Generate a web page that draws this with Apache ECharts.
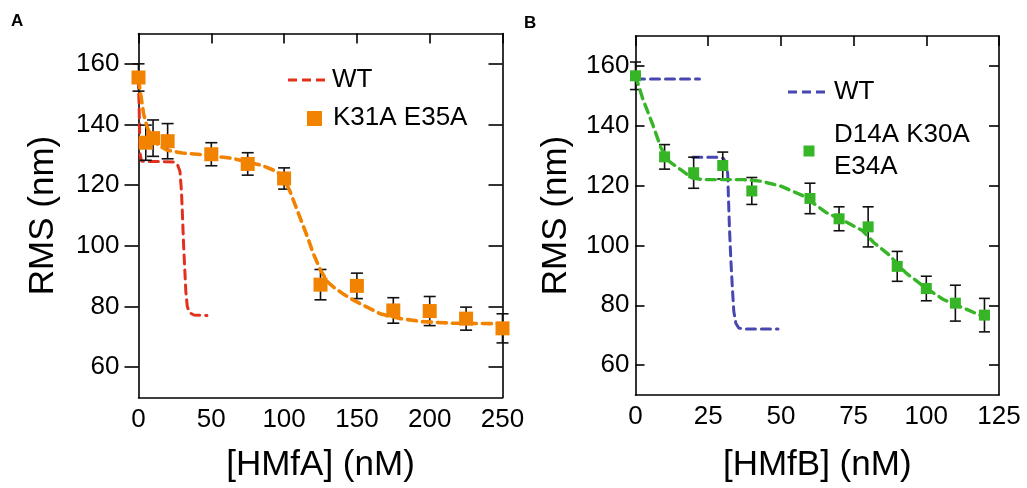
<!DOCTYPE html>
<html>
<head>
<meta charset="utf-8">
<script src="https://cdn.jsdelivr.net/npm/echarts@6/dist/echarts.min.js"></script>
<style>
html,body{margin:0;padding:0;background:#fff;}
#chart{width:1027px;height:488px;}
</style>
</head>
<body>
<div id="chart"></div>
<script>
// ---------- Panel A data ----------
const mutA_x   = [0, 5, 10, 20, 50, 75, 100, 125, 150, 175, 200, 225, 250];
const mutA_y   = [155.5, 134, 135.5, 134.5, 130.2, 127, 122.2, 87.2, 86.8, 78.7, 78.5, 76, 72.8];
const mutA_err = [4.5, 5.8, 6, 5.8, 3.8, 3.7, 3.5, 5, 4.2, 4.2, 4.8, 3.8, 4.8];
const fitA_x = [0, 1.5, 3.5, 6, 10, 14, 20, 30, 45, 65, 85, 95, 100, 104, 108, 112, 116, 120, 125, 130, 135, 141, 148, 157, 166, 180, 195, 215, 250];
const fitA_y = [155, 150, 143.5, 139, 135, 133, 131.5, 130.6, 130, 128.8, 126.5, 124.5, 122, 118, 113, 108, 103, 97.5, 92, 88, 86, 84, 82, 79.8, 77.6, 76, 75, 74.5, 74.3];
const wtA_x = [0, 0.4, 0.8, 1.2, 2, 5, 15, 25, 27, 28.5, 29.5, 30.2, 31, 31.8, 32.5, 33.5, 35, 38, 47];
const wtA_y = [155, 146, 137, 130, 128, 127.8, 127.8, 127.6, 126.5, 124.5, 118, 110, 100, 92, 85, 80, 78, 77.2, 77];

// ---------- Panel B data ----------
const mutB_x   = [0, 10, 20, 30, 40, 60, 70, 80, 90, 100, 110, 120];
const mutB_y   = [156.7, 129.6, 124.3, 126.7, 118.2, 115.7, 108.9, 106.2, 93, 85.6, 80.7, 76.7];
const mutB_err = [4.6, 4.1, 5.2, 4.5, 4.5, 5.1, 4, 6.7, 5, 4.1, 6, 5.6];
const fitB_x = [0, 2.5, 6, 8.8, 11.7, 16.3, 19.2, 23, 30, 37, 43, 50, 57.6, 65.6, 72.5, 78, 82, 87, 93, 99, 105.7, 113.7, 120];
const fitB_y = [156.7, 149, 140.2, 132.5, 128, 124.8, 122.6, 122, 122, 122, 121.5, 119.8, 116.6, 111, 107.8, 105, 100.9, 97, 90.8, 86.4, 82, 78.7, 76];
const wtB_x = [0, 22, 21, 19.7, 28.9, 30.3, 31.2, 31.7, 32, 32.3, 32.8, 33.3, 33.8, 34.5, 35.5, 37, 49];
const wtB_y = [155.6, 155.6, null, 129.5, 129.5, 129, 127, 124, 115, 106, 95, 86, 78, 74, 72.4, 72.1, 72.1];

// ---------- ticks / labels ----------
const yTicks = [60, 80, 100, 120, 140, 160];
const labelsText = {
  panelA: 'A', panelB: 'B',
  xA: '[HMfA] (nM)', xB: '[HMfB] (nM)', y: 'RMS (nm)',
  wt: 'WT', mutA: 'K31A E35A', mutB1: 'D14A K30A', mutB2: 'E34A'
};

const colors = { orange: '#F28300', red: '#E2301F', green: '#36B527', blue: '#4747B2' };
const FONT = '"Liberation Sans", Arial, Helvetica, sans-serif';

function pairs(xs, ys) { return xs.map((x, i) => [x, ys[i] === null ? '-' : ys[i]]); }
function errs(xs, ys, es) { return xs.map((x, i) => [x, ys[i] - es[i], ys[i] + es[i]]); }

function errRender(capHalf) {
  return function (params, api) {
    const x = api.value(0), lo = api.value(1), hi = api.value(2);
    const a = api.coord([x, lo]), b = api.coord([x, hi]);
    const st = { stroke: '#111', lineWidth: 1.6, fill: null };
    return {
      type: 'group', children: [
        { type: 'line', shape: { x1: a[0], y1: a[1], x2: b[0], y2: b[1] }, style: st },
        { type: 'line', shape: { x1: a[0] - capHalf, y1: a[1], x2: a[0] + capHalf, y2: a[1] }, style: st },
        { type: 'line', shape: { x1: b[0] - capHalf, y1: b[1], x2: b[0] + capHalf, y2: b[1] }, style: st }
      ]
    };
  };
}

const labelStyle = { fontFamily: FONT, fontSize: 26, color: '#000' };
const lineSt = { color: '#000', width: 1.6 };

function xAxes(grid, max, interval, name, nameGap) {
  return [
    { gridIndex: grid, type: 'value', min: 0, max: max, interval: interval, position: 'bottom',
      axisLine: { show: true, onZero: false, lineStyle: lineSt }, axisTick: { show: false },
      splitLine: { show: false },
      axisLabel: Object.assign({ margin: 9, showMinLabel: true, showMaxLabel: true }, labelStyle),
      name: name, nameLocation: 'middle', nameGap: nameGap,
      nameTextStyle: { fontFamily: FONT, fontSize: 35, color: '#000' } },
    { gridIndex: grid, type: 'value', min: 0, max: max, interval: interval, position: 'top',
      axisLine: { show: true, onZero: false, lineStyle: lineSt },
      axisTick: { show: true, inside: true, length: 10, lineStyle: lineSt },
      axisLabel: { show: false }, splitLine: { show: false } }
  ];
}
function yAxes(grid, leftInside, leftLen, rightLen, margin, nameGap) {
  return [
    { gridIndex: grid, type: 'value', min: 50, max: 170, position: 'left',
      axisLine: { show: true, onZero: false, lineStyle: lineSt },
      axisTick: { show: true, inside: leftInside, length: leftLen, customValues: yTicks, lineStyle: lineSt },
      axisLabel: Object.assign({ margin: margin, customValues: yTicks }, labelStyle),
      splitLine: { show: false },
      name: labelsText.y, nameLocation: 'middle', nameGap: nameGap,
      nameTextStyle: { fontFamily: FONT, fontSize: 35, color: '#000' } },
    { gridIndex: grid, type: 'value', min: 50, max: 170, position: 'right',
      axisLine: { show: true, onZero: false, lineStyle: lineSt },
      axisTick: { show: true, inside: true, length: rightLen, customValues: yTicks, lineStyle: lineSt },
      axisLabel: { show: false }, splitLine: { show: false } }
  ];
}

const dashLine = (color, w) => ({ color: color, width: w, type: [9, 6], cap: 'round' });

const option = {
  animation: false,
  backgroundColor: '#fff',
  grid: [
    { left: 138.5, top: 33.5, width: 364, height: 364 },
    { left: 635.5, top: 36, width: 363.5, height: 363 }
  ],
  xAxis: [].concat(xAxes(0, 250, 50, labelsText.xA, 50), xAxes(1, 125, 25, labelsText.xB, 53)),
  yAxis: [].concat(yAxes(0, false, 14, 14, 19, 78), yAxes(1, true, 9, 10, 6, 62)),
  series: [
    // Panel A
    { type: 'line', xAxisIndex: 0, yAxisIndex: 0, data: pairs(wtA_x, wtA_y), symbol: 'none',
      smooth: false, lineStyle: dashLine(colors.red, 3), z: 2 },
    { type: 'custom', xAxisIndex: 0, yAxisIndex: 0, data: errs(mutA_x, mutA_y, mutA_err),
      renderItem: errRender(6), encode: { x: 0, y: [1, 2] }, clip: false, z: 3 },
    { type: 'scatter', xAxisIndex: 0, yAxisIndex: 0, data: pairs(mutA_x, mutA_y), symbol: 'rect',
      symbolSize: 14, itemStyle: { color: colors.orange, opacity: 1 }, clip: false, z: 4 },
    { type: 'line', xAxisIndex: 0, yAxisIndex: 0, data: pairs(fitA_x, fitA_y), symbol: 'none',
      lineStyle: dashLine(colors.orange, 3.6), z: 5 },
    // Panel B
    { type: 'line', xAxisIndex: 2, yAxisIndex: 2, data: pairs(wtB_x, wtB_y), symbol: 'none',
      connectNulls: false, lineStyle: dashLine(colors.blue, 3), z: 2 },
    { type: 'custom', xAxisIndex: 2, yAxisIndex: 2, data: errs(mutB_x, mutB_y, mutB_err),
      renderItem: errRender(5.5), encode: { x: 0, y: [1, 2] }, clip: false, z: 3 },
    { type: 'scatter', xAxisIndex: 2, yAxisIndex: 2, data: pairs(mutB_x, mutB_y), symbol: 'rect',
      symbolSize: 11, itemStyle: { color: colors.green, opacity: 1 }, clip: false, z: 4 },
    { type: 'line', xAxisIndex: 2, yAxisIndex: 2, data: pairs(fitB_x, fitB_y), symbol: 'none',
      lineStyle: dashLine(colors.green, 3.4), z: 5 }
  ],
  graphic: [
    { type: 'text', left: 11, top: 13, style: { text: labelsText.panelA, fontFamily: FONT, fontSize: 17, fontWeight: 'bold', fill: '#000' } },
    { type: 'text', left: 524, top: 15, style: { text: labelsText.panelB, fontFamily: FONT, fontSize: 17, fontWeight: 'bold', fill: '#000' } },
    // legend A
    { type: 'line', shape: { x1: 288, y1: 80, x2: 328, y2: 80 }, style: { stroke: colors.red, lineWidth: 3, lineDash: [9, 5] } },
    { type: 'text', x: 332, y: 80, style: { text: labelsText.wt, fontFamily: FONT, fontSize: 26, fill: '#000', verticalAlign: 'middle' } },
    { type: 'rect', shape: { x: 307, y: 111, width: 15, height: 15 }, style: { fill: colors.orange } },
    { type: 'text', x: 333, y: 118, style: { text: labelsText.mutA, fontFamily: FONT, fontSize: 26, fill: '#000', verticalAlign: 'middle' } },
    // legend B
    { type: 'line', shape: { x1: 788, y1: 92, x2: 827, y2: 92 }, style: { stroke: colors.blue, lineWidth: 3, lineDash: [9, 5] } },
    { type: 'text', x: 834, y: 92, style: { text: labelsText.wt, fontFamily: FONT, fontSize: 26, fill: '#000', verticalAlign: 'middle' } },
    { type: 'rect', shape: { x: 803.5, y: 145.5, width: 11, height: 11 }, style: { fill: colors.green } },
    { type: 'text', x: 834, y: 135, style: { text: labelsText.mutB1, fontFamily: FONT, fontSize: 26, fill: '#000', verticalAlign: 'middle' } },
    { type: 'text', x: 834, y: 167, style: { text: labelsText.mutB2, fontFamily: FONT, fontSize: 26, fill: '#000', verticalAlign: 'middle' } }
  ]
};

const chart = echarts.init(document.getElementById('chart'), null, { renderer: 'canvas' });
chart.setOption(option);
</script>
</body>
</html>
